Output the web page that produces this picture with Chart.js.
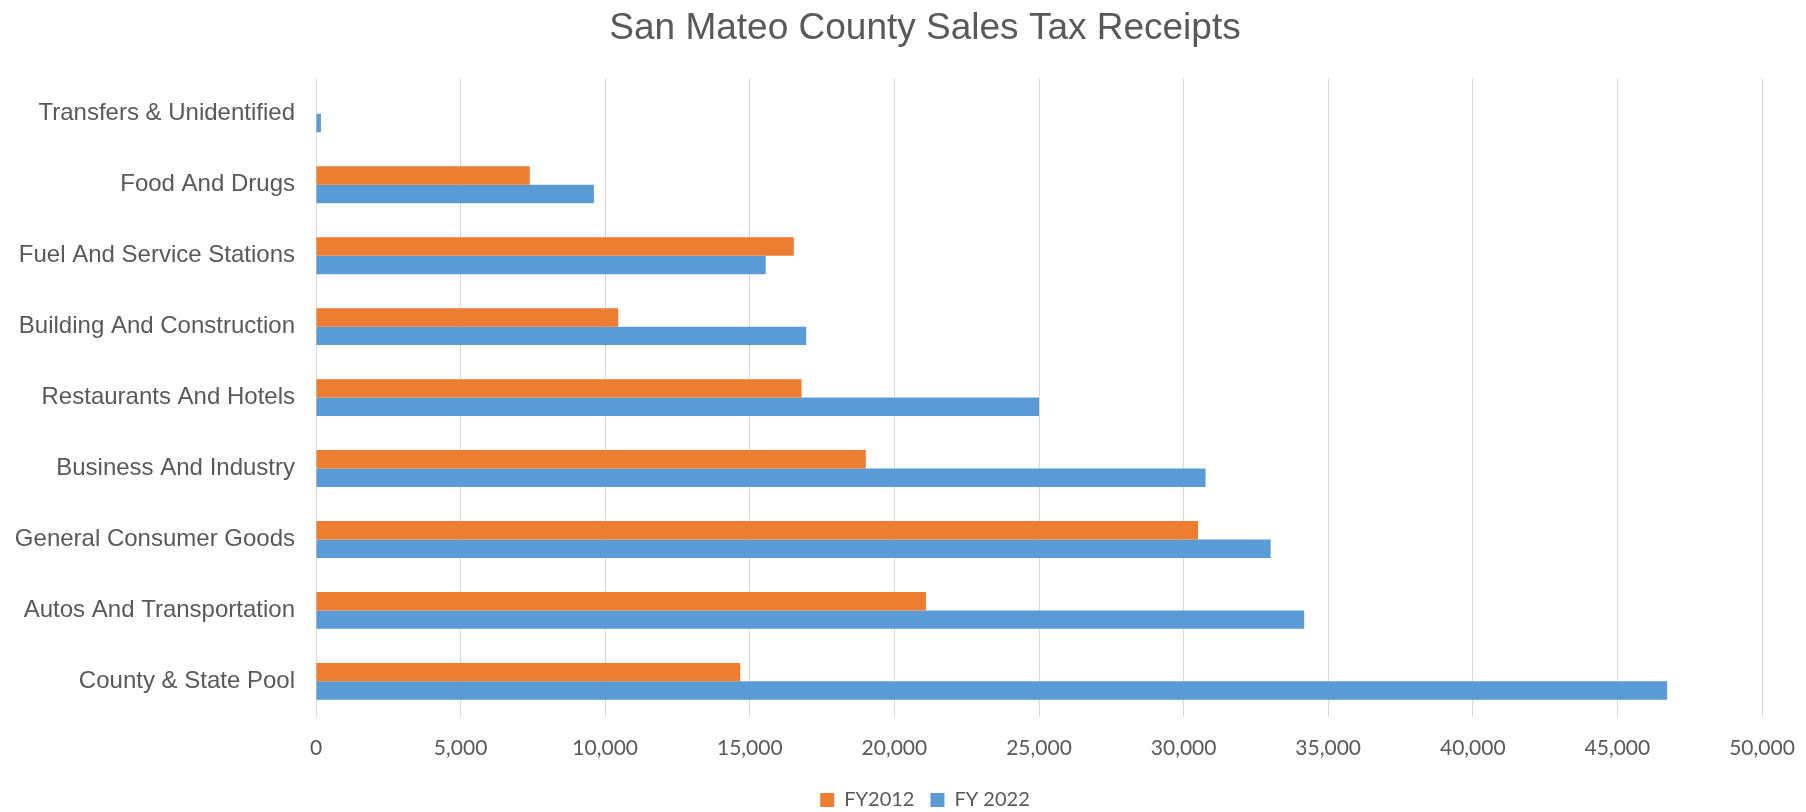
<!DOCTYPE html>
<html>
<head>
<meta charset="utf-8">
<script src="https://cdn.jsdelivr.net/npm/chart.js@4.4.1/dist/chart.umd.min.js"></script>
<style>
  html, body { margin: 0; padding: 0; background: #fff; }
  #wrap { width: 1806px; height: 812px; }
</style>
</head>
<body>
<div id="wrap"><canvas id="chart" width="1806" height="812"></canvas></div>
<script>
// categories listed top to bottom as they appear on the chart
const categories = [
    'Transfers & Unidentified',
    'Food And Drugs',
    'Fuel And Service Stations',
    'Building And Construction',
    'Restaurants And Hotels',
    'Business And Industry',
    'General Consumer Goods',
    'Autos And Transportation',
    'County & State Pool'
];
const fy2012 = [null, 7390, 16520, 10450, 16790, 19010, 30500, 21090, 14670];
const fy2022 = [170, 9610, 15550, 16950, 25000, 30760, 33010, 34170, 46720];
const seriesNames = ['FY2012', 'FY 2022'];
const xMax = 50000;
const xStep = 5000;

const textColor = '#595959';

// excel centres the title and legend a bit right of the canvas middle
const shiftBlocks = {
    id: 'shiftBlocks',
    afterLayout(chart) {
        [chart.titleBlock, chart.legend].forEach((b) => {
            if (!b) return;
            b.left += 44;
            b.right += 44;
        });
    }
};

const ctx = document.getElementById('chart').getContext('2d');

new Chart(ctx, {
    type: 'bar',
    data: {
        labels: categories,
        datasets: [{
            label: seriesNames[0],
            data: fy2012,
            backgroundColor: '#ED7D31',
            categoryPercentage: 0.52,
            barPercentage: 1.0
        }, {
            label: seriesNames[1],
            data: fy2022,
            backgroundColor: '#5B9BD5',
            categoryPercentage: 0.52,
            barPercentage: 1.0
        }]
    },
    plugins: [shiftBlocks],
    options: {
        indexAxis: 'y',
        responsive: false,
        animation: false,
        devicePixelRatio: 1,
        layout: {
            padding: { left: 0, right: 44, top: 0, bottom: -8 }
        },
        plugins: {
            title: {
                display: true,
                text: 'San Mateo County Sales Tax Receipts',
                color: textColor,
                font: { family: '"Liberation Sans", Arial, sans-serif', size: 37, weight: 'normal' },
                padding: { top: 7, bottom: 27 }
            },
            legend: {
                display: true,
                position: 'bottom',
                labels: {
                    color: textColor,
                    font: { family: 'Lato, sans-serif', size: 20 },
                    boxWidth: 14,
                    boxHeight: 14,
                    padding: 16
                }
            },
            tooltip: { enabled: false }
        },
        scales: {
            x: {
                min: 0,
                max: xMax,
                ticks: {
                    stepSize: xStep,
                    color: textColor,
                    font: { family: 'Lato, sans-serif', size: 21 },
                    padding: 19,
                    callback: (v) => v.toLocaleString('en-US')
                },
                grid: {
                    color: '#d9d9d9',
                    lineWidth: 1,
                    drawTicks: false
                },
                border: { display: false },
                afterFit: (scale) => {
                    scale.height -= 6;
                    scale.paddingRight = 0;
                }
            },
            y: {
                ticks: {
                    color: textColor,
                    font: { family: '"Liberation Sans", Arial, sans-serif', size: 24 },
                    padding: 21
                },
                grid: { display: false, drawTicks: false },
                border: { display: false },
                afterFit: (scale) => { scale.width = 316; }
            }
        }
    }
});
</script>
</body>
</html>
